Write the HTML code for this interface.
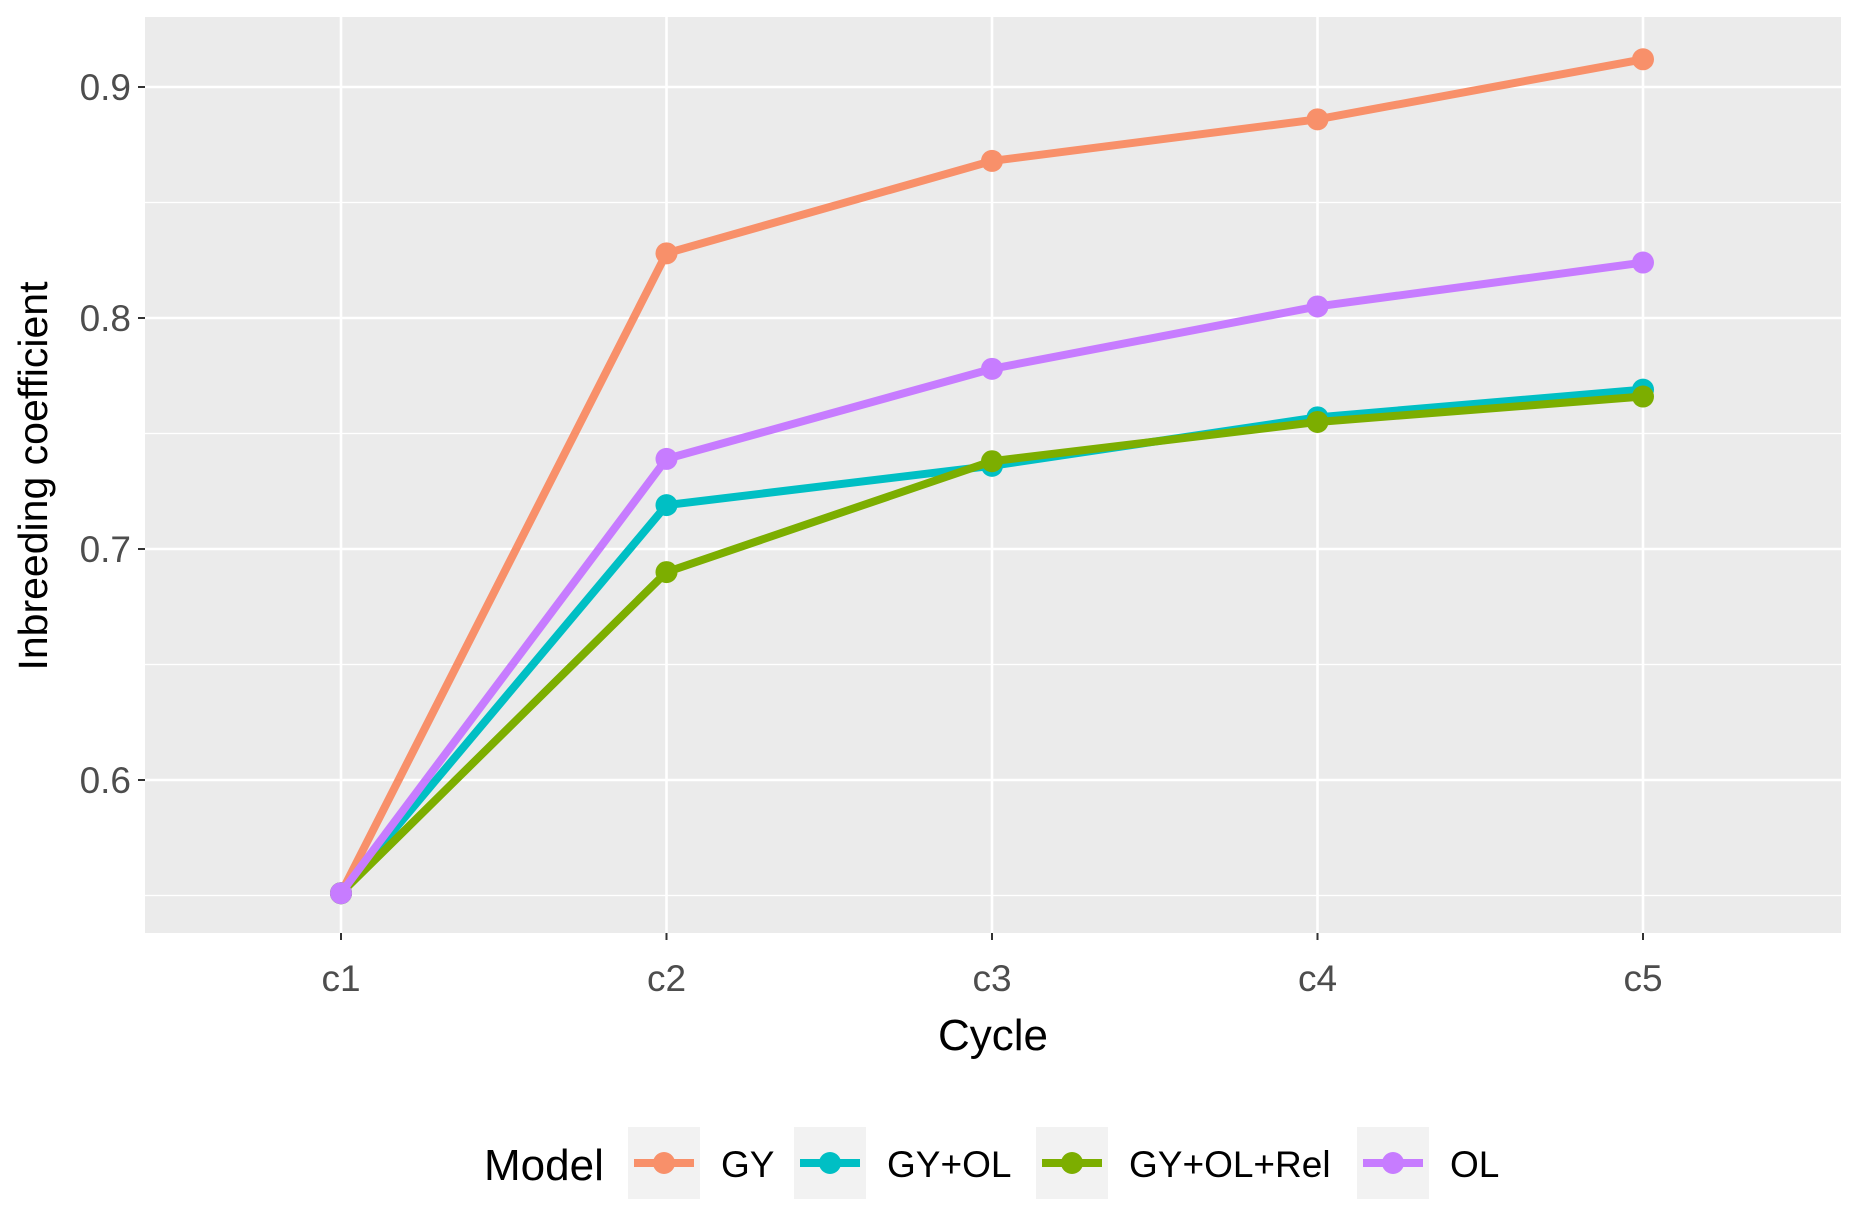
<!DOCTYPE html>
<html><head><meta charset="utf-8"><style>
html,body{margin:0;padding:0;background:#fff;}
svg{display:block;font-family:"Liberation Sans",Arial,sans-serif;}
</style></head><body>
<svg id="chart" width="1855" height="1211" viewBox="0 0 1855 1211">
<rect x="0" y="0" width="1855" height="1211" fill="#fff"/>
<rect x="145" y="17" width="1696" height="916" fill="#ebebeb"/>
<g id="grid"></g>
<g id="series"></g>
<g id="axes"></g>
<text x="36" y="476" transform="rotate(-90 36 476)" text-anchor="middle" dominant-baseline="middle" font-size="41" fill="#000">Inbreeding coefficient</text>
<text x="993" y="1050" text-anchor="middle" font-size="44" fill="#000">Cycle</text>
<g id="legend"></g>
</svg>
<script>
const categories = ["c1","c2","c3","c4","c5"];
const seriesNames = ["GY","GY+OL","GY+OL+Rel","OL"];
const gyValues = [0.551,0.828,0.868,0.886,0.912];
const gyolValues = [0.551,0.719,0.736,0.757,0.769];
const gyolrelValues = [0.551,0.690,0.738,0.755,0.766];
const olValues = [0.551,0.739,0.778,0.805,0.824];
const yTicks = [0.6,0.7,0.8,0.9];
const yTickLabels = ["0.6","0.7","0.8","0.9"];

const NS="http://www.w3.org/2000/svg";
const colors={"GY":"#f8906a","GY+OL":"#00bfc4","GY+OL+Rel":"#7cae00","OL":"#c77cff"};
function xScale(i){return 341+i*325.5;}
function yScale(v){return 87+(0.9-v)*2310;}
function mk(tag,attrs,parent){const e=document.createElementNS(NS,tag);for(const k in attrs)e.setAttribute(k,attrs[k]);parent.appendChild(e);return e;}
const grid=document.getElementById('grid');
for(let i=0;i<yTicks.length+1;i++){
  const v=0.55+i*0.1;
  const l=mk('line',{x1:145,x2:1841,y1:yScale(v),y2:yScale(v),stroke:'#fff','stroke-width':1.3},grid);
  
  
}
yTicks.forEach((v,i)=>{
  const l=mk('line',{x1:145,x2:1841,y1:yScale(v),y2:yScale(v),stroke:'#fff','stroke-width':2.6},grid);
  
  
});
categories.forEach((c,i)=>{
  const l=mk('line',{x1:xScale(i),x2:xScale(i),y1:17,y2:933,stroke:'#fff','stroke-width':2.6},grid);
  
  
});
const axes=document.getElementById('axes');
yTicks.forEach((v,i)=>{
  const t=mk('line',{x1:138,x2:145,y1:yScale(v),y2:yScale(v),stroke:'#333','stroke-width':2},axes);
  
  
  const tx=mk('text',{x:131,y:yScale(v)+13,'text-anchor':'end','font-size':37,fill:'#4d4d4d'},axes);
  tx.textContent=yTickLabels[i];
  
  
});
categories.forEach((c,i)=>{
  const t=mk('line',{x1:xScale(i),x2:xScale(i),y1:933,y2:940,stroke:'#333','stroke-width':2},axes);
  
  
  const tx=mk('text',{x:xScale(i),y:991,'text-anchor':'middle','font-size':37,fill:'#4d4d4d'},axes);
  tx.textContent=c;
  
  
});
const seriesG=document.getElementById('series');
const allValues=[gyValues,gyolValues,gyolrelValues,olValues];
allValues.forEach((vals,si)=>{
  const name=seriesNames[si];
  const g=mk('g',{},seriesG);
  
  
  const pts=vals.map((v,i)=>xScale(i)+','+yScale(v)).join(' ');
  const pl=mk('polyline',{points:pts,fill:'none',stroke:colors[name],'stroke-width':8,'stroke-linejoin':'round'},g);
  
  
  vals.forEach((v,i)=>{
    const c=mk('circle',{cx:xScale(i),cy:yScale(v),r:11,fill:colors[name]},g);
    
    
  });
});
const legend=document.getElementById('legend');
const lt=mk('text',{x:484,y:1180,'font-size':44,fill:'#000'},legend);
lt.textContent='Model';


const keyX=[628,794,1036,1357];
seriesNames.forEach((name,i)=>{
  const g=mk('g',{},legend);
  
  
  const x=keyX[i];
  mk('rect',{x:x,y:1127,width:72,height:72,fill:'#f2f2f2'},g);
  mk('line',{x1:x+6,x2:x+66,y1:1163,y2:1163,stroke:colors[name],'stroke-width':8},g);
  mk('circle',{cx:x+36,cy:1163,r:11,fill:colors[name]},g);
  const t=mk('text',{x:x+93,y:1177,'font-size':37,fill:'#000'},g);
  t.textContent=name;
});
</script>
</body></html>
